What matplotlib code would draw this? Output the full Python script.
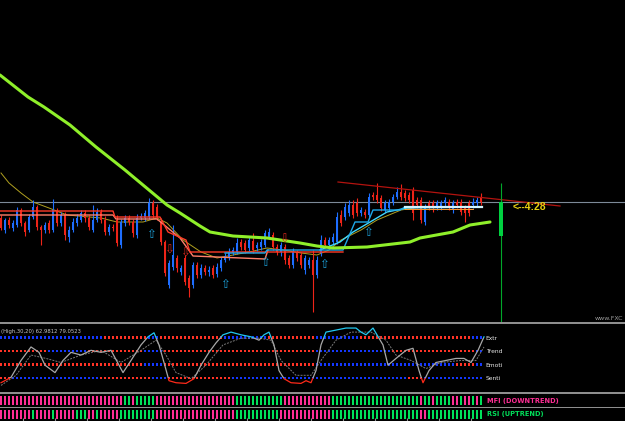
import numpy as np
import matplotlib
matplotlib.use("Agg")
import matplotlib.pyplot as plt
from matplotlib.patches import Rectangle

# ---------------- data (price in pips above an arbitrary base) ----------------
opens = [104, 92, 102, 94, 97, 112, 99, 92, 105, 115,
         95, 92, 99, 92, 111, 99, 107, 85, 92, 99,
         102, 109, 104, 92, 102, 110, 102, 90, 95, 102,
         77, 99, 104, 100, 87, 104, 104, 105, 119, 115,
         100, 80, 37, 55, 64, 50, 64, 44, 37, 57,
         47, 54, 50, 54, 48, 54, 62, 64, 69, 70,
         80, 79, 74, 81, 74, 75, 77, 85, 87, 75,
         70, 75, 64, 57, 69, 67, 52, 57, 62, 47,
         69, 82, 77, 80, 80, 107, 105, 109, 117, 119,
         109, 110, 107, 127, 127, 124, 112, 114, 120, 125,
         130, 129, 127, 132, 122, 122, 100, 119, 119, 115,
         115, 119, 120, 112, 120, 120, 114, 119, 117, 119,
         125]
closes = [94, 102, 97, 99, 112, 99, 90, 105, 115, 95,
          92, 97, 92, 112, 99, 107, 87, 92, 100, 104,
          109, 104, 95, 102, 110, 102, 90, 95, 94, 79,
          100, 104, 100, 89, 104, 106, 109, 119, 107, 105,
          80, 49, 59, 67, 54, 54, 40, 34, 57, 47,
          54, 50, 52, 47, 55, 62, 66, 70, 72, 79,
          75, 72, 82, 72, 77, 80, 89, 90, 75, 70,
          77, 62, 57, 70, 64, 57, 64, 62, 47, 62,
          82, 77, 82, 85, 105, 99, 115, 117, 107, 109,
          112, 107, 125, 125, 122, 114, 119, 120, 125, 130,
          125, 124, 122, 109, 117, 102, 115, 115, 115, 119,
          119, 122, 115, 119, 117, 110, 109, 109, 120, 122,
          120]
highs = [107, 104, 105, 102, 115, 114, 101, 108, 122, 117,
         97, 100, 102, 123, 114, 110, 110, 96, 104, 108,
         112, 112, 107, 117, 114, 113, 106, 98, 98, 107,
         103, 107, 107, 103, 108, 109, 112, 124, 122, 118,
         104, 82, 62, 97, 67, 57, 67, 47, 60, 60,
         58, 57, 56, 57, 59, 65, 69, 74, 75, 84,
         83, 82, 86, 89, 80, 83, 92, 94, 90, 78,
         80, 78, 67, 74, 72, 70, 67, 65, 72, 66,
         87, 85, 85, 89, 110, 112, 119, 122, 122, 124,
         115, 113, 129, 130, 139, 127, 122, 123, 128, 135,
         138, 132, 130, 135, 125, 125, 118, 122, 122, 122,
         122, 125, 123, 122, 123, 123, 117, 122, 124, 125,
         129]
lows = [92, 89, 94, 91, 95, 96, 86, 90, 103, 92,
        77, 89, 89, 90, 96, 96, 82, 80, 90, 96,
        100, 100, 92, 90, 100, 99, 87, 87, 91, 76,
        74, 96, 97, 85, 84, 102, 101, 103, 104, 102,
        77, 46, 34, 52, 50, 47, 37, 25, 34, 44,
        44, 47, 46, 44, 45, 51, 60, 62, 67, 68,
        72, 69, 71, 69, 71, 72, 75, 83, 72, 67,
        66, 58, 54, 54, 61, 54, 48, 54, 10, 44,
        66, 74, 74, 77, 78, 96, 102, 106, 104, 106,
        106, 104, 105, 122, 119, 111, 110, 111, 117, 123,
        122, 121, 119, 102, 114, 99, 97, 112, 110, 112,
        112, 116, 112, 109, 114, 107, 100, 106, 114, 116,
        117]

# current (forming) bar and timer
cur_bar = 125
cur_open, cur_close, cur_high, cur_low = 86, 120, 139, 0
bid_price = 120
timer_label = "<--4:28"

# slow moving average (green)
ma_slow_x = [-0.25, 6.75, 10.75, 17.25, 23.75, 31, 41.5, 44.75, 49.75, 52.25, 58, 66.5,
             74.75, 79, 83, 91.5, 102.25, 104.75, 113, 117.25, 122.25]
ma_slow_y = [247, 225, 215, 197, 175, 152, 117, 109, 96, 90, 86, 84,
             79, 76, 74, 75, 80, 84, 90, 97, 100]
# thin moving average (olive)
ma_thin_x = [0, 2, 5, 8, 12, 16.5, 25, 29, 35.5, 39, 41.5, 45.5, 50, 54, 58, 62, 66.5,
             70.5, 75, 79, 82, 85, 90, 94, 100, 105, 120]
ma_thin_y = [149, 139, 129, 120, 114, 107, 104, 100, 100, 104, 99, 82, 70, 64, 67, 70, 74,
             72, 69, 67, 72, 82, 92, 102, 112, 115, 115]
# trailing stop lines
stop_r1_x = [-0.25, 28, 28.5, 39.75, 41.75, 46.25, 47.25, 85.5]
stop_r1_y = [111, 111, 105, 105, 90, 82, 70, 70]
stop_r2_x = [-0.25, 28, 28.75, 39, 44.75, 48, 66, 66.75]
stop_r2_y = [107, 107, 103, 103, 84, 66, 63, 72]
stop_c1_x = [56, 66, 66.5, 85.5, 88.5, 91.75, 93, 99.75, 101, 120.25]
stop_c1_y = [69, 69, 72, 72, 100, 100, 112, 112, 115, 115]
stop_c2_x = [79.75, 84.75, 88, 91, 96.5, 101.5, 120.25]
stop_c2_y = [72, 80, 90, 97, 110, 114, 115]
# trend line
trend_x = [84.25, 139.75]
trend_y = [140, 116]
# signal arrows
up_arrow_x = [37.5, 56, 66, 80.75, 91.75]
up_arrow_y = [88, 37, 59, 58, 89]
dn_arrow_x = [42, 46, 70.75]
dn_arrow_y = [72, 69, 83]

# oscillator pane
osc_x = [0, 2.5, 5, 7.5, 9.5, 11, 13.5, 15.5, 17.5, 20, 22.5, 25, 27.5, 29.5, 30.5, 32.5,
         35, 36.75, 38.25, 39.5, 40.75, 42, 43.75, 46.25, 48.25, 50, 52, 53.75, 55.5, 57.5,
         60, 62.5, 64.5, 65.75, 67, 68.25, 69.5, 70.75, 72.5, 75, 76.25, 77.5, 78.75, 80,
         81.25, 83.75, 86.25, 88.75, 90, 91.25, 93, 94.5, 95.5, 96.75, 98.75, 101.25, 103,
         104.5, 105.5, 107, 108.75, 111.25, 113.75, 115.75, 117.5, 119.25, 120.75]
osc_y = [13, 21, 46, 66, 58, 39, 28, 46, 58, 54, 61, 58, 61, 39, 28, 46,
         69, 81, 87, 69, 43, 16, 13, 12, 19, 39, 58, 72, 84, 88,
         84, 81, 76, 84, 88, 69, 31, 19, 13, 12, 16, 13, 31, 69,
         88, 91, 94, 94, 88, 84, 94, 79, 69, 39, 49, 61, 64,
         31, 13, 31, 43, 46, 49, 49, 43, 61, 81]
sig_x = [0, 3.75, 7.5, 11.25, 15, 20, 25, 30, 35, 38.75, 41.25, 43.75, 47.5, 51.25, 55.5,
         60, 64.5, 67.5, 70, 73.75, 77.5, 80, 83.75, 87.5, 92.5, 96.25, 98.75, 102.5,
         106.25, 110, 115, 118.75, 120.75]
sig_y = [9, 24, 54, 49, 43, 54, 61, 43, 61, 76, 54, 28, 19, 39, 69,
         79, 79, 76, 46, 24, 24, 46, 76, 88, 88, 76, 54, 46,
         34, 43, 46, 46, 66]
osc_header = "(High,30,20) 62.9812 79.0523"
row_names = ["Extr", "Trend", "Emoti", "Senti"]
row_levels = [80, 60, 40, 20]
row_runs = [
    [("b", 26), ("r", 11), ("b", 3), ("r", 16), ("b", 11), ("r", 12), ("b", 11), ("r", 28), ("b", 3)],
    [("r", 12), ("b", 10), ("r", 14), ("b", 5), ("r", 38), ("b", 19), ("r", 21), ("b", 2)],
    [("r", 36), ("b", 5), ("r", 38), ("b", 35), ("r", 5), ("b", 2)],
    [("r", 3), ("b", 22), ("r", 13), ("b", 4), ("r", 16), ("b", 44), ("r", 4), ("b", 15)],
]
mfi_runs = [("p", 31), ("g", 2), ("p", 1), ("g", 5), ("p", 20), ("g", 12), ("p", 12), ("g", 22),
            ("p", 1), ("g", 2), ("p", 1), ("g", 4), ("p", 2), ("g", 1), ("p", 2), ("g", 1),
            ("p", 1), ("g", 1)]
rsi_runs = [("p", 8), ("g", 1), ("p", 4), ("g", 1), ("p", 5), ("g", 3), ("p", 2), ("g", 1),
            ("p", 5), ("g", 9), ("p", 11), ("p", 9), ("g", 11), ("p", 13), ("g", 22), ("p", 2),
            ("g", 14)]
mfi_label = "MFI (DOWNTREND)"
rsi_label = "RSI (UPTREND)"
watermark = "www.FXC"

# ---------------- styles ----------------
BLUE = "#1E6EFF"
RED = "#EE2418"
ROW_BLUE = "#1438FF"
ROW_RED = "#FF3326"
PINK = "#FF2E95"
GREEN = "#00E05A"

def expand(runs):
    out = []
    for k, n in runs:
        out += [k] * n
    return out

H = 421.0
fig = plt.figure(figsize=(6.25, 4.21), dpi=100, facecolor="black")

def ax_at(top, bottom):
    a = fig.add_axes([0, 1 - bottom / H, 1, (bottom - top) / H], facecolor="black")
    a.set_xlim(-0.25, 156)
    a.set_axis_off()
    return a

ax = ax_at(0, 322)
axi = ax_at(324, 391.5)
axm = ax_at(393.5, 406.5)
axr = ax_at(408, 421)

# separators
for top, hgt in [(322, 2), (391.5, 2), (406.5, 1.5)]:
    fig.add_artist(Rectangle((0, 1 - (top + hgt) / H), 1, hgt / H, transform=fig.transFigure,
                             color="#8E8E8E", lw=0))

# ---------------- main pane ----------------
ax.set_ylim(0, 322)
o = np.array(opens, float); c = np.array(closes, float)
h = np.array(highs, float); l = np.array(lows, float)
idx = np.arange(len(c))
cols = np.where(c >= o, BLUE, RED)
ax.axhline(bid_price, color="#7D8A98", lw=0.8, zorder=1)
ax.plot(ma_thin_x, ma_thin_y, color="#B0A020", lw=0.7, zorder=2)
ax.vlines(idx, l, h, colors=cols, lw=0.8, zorder=3)
body = np.maximum(np.abs(c - o), 1.0)
ax.bar(idx, body, bottom=np.minimum(o, c), width=0.72, color=cols, lw=0, zorder=3)

ax.plot(stop_r2_x, stop_r2_y, color="#FF7F6A", lw=1.0, zorder=4)
ax.plot(stop_r1_x, stop_r1_y, color="#FF3A28", lw=1.0, zorder=4)
ax.plot(stop_c2_x, stop_c2_y, color="#3FD8FF", lw=1.0, zorder=4)
ax.plot(stop_c1_x, stop_c1_y, color="#1EA8E8", lw=1.0, zorder=4)
ax.plot([101, 120.25], [115, 115], color="#CFF4FF", lw=1.6, zorder=5)
ax.plot([101, 118], [113, 113], color="#FF9A30", lw=0.7, zorder=5)
ax.plot(ma_slow_x, ma_slow_y, color="#8FEF2A", lw=2.2, zorder=6, solid_capstyle="round")
ax.plot(trend_x, trend_y, color="#B3130F", lw=0.9, zorder=6)

for x, y in zip(up_arrow_x, up_arrow_y):
    ax.text(x, y, "\u21e7", color="#1CA0D8", fontsize=8.5, ha="center", va="center", zorder=7)
for x, y in zip(dn_arrow_x, dn_arrow_y):
    ax.text(x, y, "\u21e9", color="#D8281C", fontsize=8.5, ha="center", va="center", zorder=7)

ax.vlines(cur_bar, cur_low, cur_high, colors="#00A82A", lw=0.8, zorder=6)
ax.bar(cur_bar, cur_close - cur_open, bottom=cur_open, width=1.2, color="#00D040", lw=0, zorder=6)
ax.text(128, bid_price - 5, timer_label, color="#E6CF10", fontsize=7.5, fontweight="bold",
        family="Liberation Sans", va="center", ha="left", zorder=7)
ax.text(0.997, 4 / 322, watermark, transform=ax.transAxes, color="#9A9A9A", fontsize=4.5,
        va="center", ha="right")

# ---------------- oscillator pane ----------------
axi.set_ylim(0, 100)
for name, lvl, runs in zip(row_names, row_levels, row_runs):
    st = expand(runs)
    cc = [ROW_BLUE if s == "b" else ROW_RED for s in st]
    axi.scatter(np.arange(len(st)), [lvl] * len(st), marker="s", s=4.2, c=cc, lw=0, zorder=2)
    axi.text(121.2, lvl - 1, name, color="#E8E8E8", fontsize=4.3, va="center", ha="left")
axi.plot(sig_x, sig_y, color="#7A7A7A", lw=0.7, ls=(0, (2, 1.2)), zorder=3)
for lo, hi, colr in [(80, 300, "#22C8F0"), (-300, 20, "#FF2A1A"), (20, 80, "#A8A8A8")]:
    ln, = axi.plot(osc_x, osc_y, color=colr, lw=0.9, zorder=4)
    ln.set_clip_path(Rectangle((-10, lo), 300, hi - lo, transform=axi.transData))
axi.text(0.002, 0.93, osc_header, transform=axi.transAxes, color="#C8C8C8", fontsize=3.8,
         va="top", ha="left")

# ---------------- MFI / RSI panes ----------------
for a, runs, label, lab_col, b0, b1 in [(axm, mfi_runs, mfi_label, PINK, 0.08, 0.78),
                                         (axr, rsi_runs, rsi_label, GREEN, 0.15, 0.86)]:
    a.set_ylim(0, 1)
    st = expand(runs)
    cc = [PINK if s == "p" else GREEN for s in st]
    a.bar(np.arange(len(st)), b1 - b0, bottom=b0, width=0.38, color=cc, lw=0)
    a.text(121.5, (b0 + b1) / 2, label, color=lab_col, fontsize=4.8, fontweight="bold",
           va="center", ha="left")

axr.vlines(np.arange(5.5, 121, 8), 0, 0.2, colors="#8E8E8E", lw=0.8)

fig.savefig("out.png", dpi=100, facecolor="black")
